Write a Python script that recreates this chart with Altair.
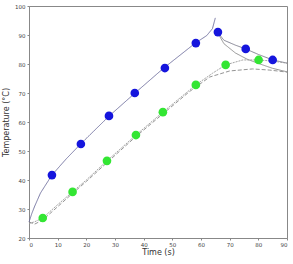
import altair as alt
import pandas as pd

# Measured points
blue_t = [8.0, 18.1, 27.9, 36.9, 47.4, 58.2, 65.9, 75.6, 85.0]
blue_T = [41.7, 52.4, 62.1, 70.0, 78.6, 87.2, 91.0, 85.2, 81.4]
green_t = [4.8, 15.2, 27.2, 37.3, 46.7, 58.2, 68.6, 80.1]
green_T = [26.9, 35.9, 46.6, 55.5, 63.4, 72.8, 79.7, 81.4]

# Fitted / model curves
heat_t = [0, 1, 2, 4, 8, 13, 18, 28, 37, 47, 58, 62, 64, 65]
heat_T = [25.5, 28.5, 31.0, 35.5, 41.7, 47.3, 52.4, 62.1, 70.0, 78.6, 87.2, 89.8, 92.2, 95.9]
coolA_t = [65.5, 68, 72, 75.6, 80, 85, 90]
coolA_T = [91.3, 88.2, 86.5, 85.2, 83.3, 81.4, 80.3]
coolB_t = [65.5, 68, 72, 76, 80, 85, 90]
coolB_T = [91.3, 87.0, 83.8, 81.7, 80.2, 78.5, 77.3]
gA_t = [0, 2, 4.8, 10, 15.2, 20, 27.2, 37.3, 46.7, 58.2, 64, 68.6, 74.6, 80.1, 85, 90]
gA_T = [25.0, 25.6, 26.9, 31.5, 35.9, 40.0, 46.6, 55.5, 63.4, 72.8, 76.8, 79.7, 81.4, 81.4, 81.0, 80.3]
gB_t = [0, 2, 4.8, 10, 15.2, 20, 27.2, 37.3, 46.7, 56, 63, 70, 78, 84, 90]
gB_T = [25.5, 24.8, 26.2, 30.8, 35.4, 39.5, 46.0, 55.0, 62.8, 70.5, 75.5, 77.6, 78.3, 77.9, 77.2]

x_ticks = list(range(0, 91, 10))
y_ticks = list(range(20, 101, 10))

pts = pd.concat([
    pd.DataFrame({"t": blue_t, "T": blue_T, "s": "blue"}),
    pd.DataFrame({"t": green_t, "T": green_T, "s": "green"}),
])
curves = pd.concat([
    pd.DataFrame({"t": heat_t, "T": heat_T, "c": "heat", "o": range(len(heat_t))}),
    pd.DataFrame({"t": coolA_t, "T": coolA_T, "c": "coolA", "o": range(len(coolA_t))}),
    pd.DataFrame({"t": coolB_t, "T": coolB_T, "c": "coolB", "o": range(len(coolB_t))}),
    pd.DataFrame({"t": gA_t, "T": gA_T, "c": "gA", "o": range(len(gA_t))}),
    pd.DataFrame({"t": gB_t, "T": gB_T, "c": "gB", "o": range(len(gB_t))}),
])

xs = alt.Scale(domain=[0, 90], nice=False, zero=False)
ys = alt.Scale(domain=[20, 100], nice=False, zero=False)

xax = alt.Axis(title="Time (s)", values=x_ticks, titlePadding=1)
yax = alt.Axis(title="Temperature (°C)", values=y_ticks, titlePadding=4)

lines = alt.Chart(curves).mark_line(strokeWidth=0.9).encode(
    x=alt.X("t:Q", scale=xs, axis=xax),
    y=alt.Y("T:Q", scale=ys, axis=yax),
    detail="c:N",
    order="o:Q",
    color=alt.Color("c:N", scale=alt.Scale(
        domain=["heat", "coolA", "coolB", "gA", "gB"],
        range=["#6a6a9a", "#777788", "#888888", "#999999", "#888888"]), legend=None),
    strokeDash=alt.StrokeDash("c:N", scale=alt.Scale(
        domain=["heat", "coolA", "coolB", "gA", "gB"],
        range=[[1, 0], [1, 0], [1, 0], [2, 1], [4, 2]]), legend=None),
)

points = alt.Chart(pts).mark_circle(size=75, opacity=1).encode(
    x=alt.X("t:Q", scale=xs, axis=xax),
    y=alt.Y("T:Q", scale=ys, axis=yax),
    fill=alt.Fill("s:N", scale=alt.Scale(domain=["blue", "green"],
                                         range=["#1515dd", "#33e633"]), legend=None),
)

chart = alt.layer(lines, points).resolve_scale(color="independent").properties(
    width=258, height=232,
    autosize=alt.AutoSizeParams(type="none"),
    padding={"left": 29, "top": 6, "right": 6, "bottom": 26},
    background="white",
).configure_view(stroke="#888", strokeWidth=1).configure_axis(
    labelFont="DejaVu Sans", titleFont="DejaVu Sans", labelFontSize=5.5, titleFontSize=8,
    titleFontWeight="normal", grid=False, tickSize=2, labelColor="#444", titleColor="#333",
    domainColor="#888", tickColor="#888", labelOverlap=False, labelPadding=2)

chart.save("out.html", embed_options={"renderer": "svg", "actions": False})
